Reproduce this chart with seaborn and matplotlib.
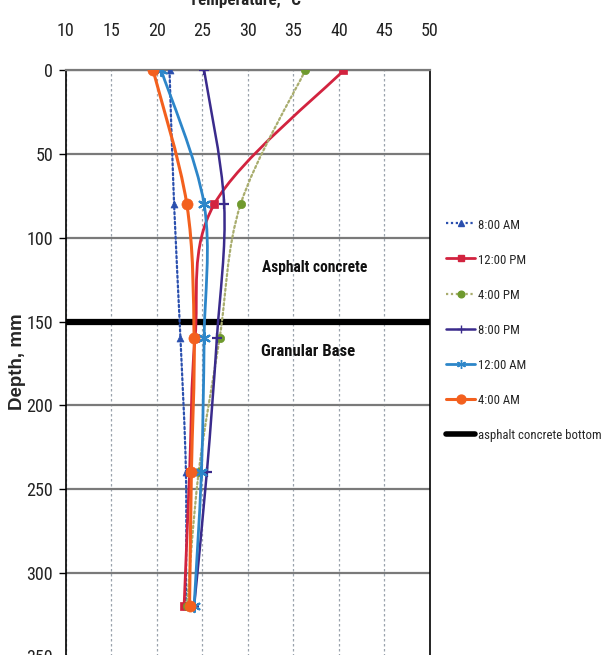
import numpy as np
import matplotlib
matplotlib.use("Agg")
import matplotlib.pyplot as plt
from matplotlib import font_manager as fm
from matplotlib.path import Path
from matplotlib.patches import PathPatch
from matplotlib.lines import Line2D
import seaborn as sns

# Measured pavement temperature profiles (deg C) at each sensor depth (mm)
depth_mm = [0, 80, 160, 240, 320]
temp_0800am = [21.4, 21.9, 22.6, 23.2, 23.2]
temp_1200pm = [40.5, 26.3, 24.2, 23.6, 23.0]
temp_0400pm = [36.3, 29.2, 26.9, 24.6, 23.3]
temp_0800pm = [25.2, 27.4, 26.6, 25.5, 24.1]
temp_1200am = [20.5, 25.2, 25.2, 24.9, 24.1]
temp_0400am = [19.6, 23.3, 24.1, 23.8, 23.6]
series_labels = ["8:00 AM", "12:00 PM", "4:00 PM", "8:00 PM", "12:00 AM", "4:00 AM"]

# Bottom of the asphalt concrete layer
bottom_temp = [10, 50]
bottom_depth = [150, 150]
bottom_label = "asphalt concrete bottom"

x_ticks = [10, 15, 20, 25, 30, 35, 40, 45, 50]
y_ticks = [0, 50, 100, 150, 200, 250, 300, 350]

sns.set_theme(style="white")


def pick_narrow_font():
    """Prefer a condensed sans family when one is installed."""
    fonts = fm.fontManager.ttflist
    names = {f.name for f in fonts}
    for cand in ["Liberation Sans Narrow", "Arial Narrow", "Roboto Condensed",
                 "Open Sans Condensed", "DejaVu Sans Condensed", "Noto Sans Condensed"]:
        if cand in names:
            return cand, "normal"
    for pref in ["DejaVu Sans", "Liberation Sans", "Noto Sans", "Open Sans", "Roboto"]:
        for f in fonts:
            if f.name == pref and str(f.stretch) in ("condensed", "semi-condensed",
                                                     "extra-condensed"):
                return pref, str(f.stretch)
    return "Liberation Sans", "normal"


NARROW, STRETCH = pick_narrow_font()
plt.rcParams["font.family"] = [NARROW, "DejaVu Sans"]
plt.rcParams["font.stretch"] = STRETCH

styles = [
    dict(color="#2a4fae", lc="#2a4fae", ls=(0, (1, 1.2)), lw=1.6, marker="^", ms=5),
    dict(color="#d2233f", lc="#d2233f", ls="-", lw=2.0, marker="s", ms=6),
    dict(color="#6f9a2e", lc="#a9ad6e", ls=(0, (1, 1.2)), lw=1.6, marker="o", ms=6),
    dict(color="#3a2b8c", lc="#3a2b8c", ls="-", lw=1.8, marker="+", ms=7),
    dict(color="#2d86c9", lc="#2d86c9", ls="-", lw=2.0, marker=(6, 2, 0), ms=8),
    dict(color="#f3601e", lc="#f3601e", ls="-", lw=2.2, marker="o", ms=8),
]
series = [temp_0800am, temp_1200pm, temp_0400pm, temp_0800pm, temp_1200am, temp_0400am]


def smooth_path(xs, ys):
    """Cubic Bezier path through the points (Catmull-Rom style smoothing)."""
    pts = np.column_stack([xs, ys]).astype(float)
    n = len(pts)
    verts = [pts[0]]
    codes = [Path.MOVETO]
    for i in range(n - 1):
        p0 = pts[max(i - 1, 0)]
        p1 = pts[i]
        p2 = pts[i + 1]
        p3 = pts[min(i + 2, n - 1)]
        verts += [p1 + (p2 - p0) / 6.0, p2 - (p3 - p1) / 6.0, p2]
        codes += [Path.CURVE4] * 3
    return Path(verts, codes)


fig = plt.figure(figsize=(6.08, 6.55), dpi=100)
ax = fig.add_axes([65.7 / 608, -0.002, (430 - 65.7) / 608, 0.8945])

ax.set_xlim(10, 50)
ax.set_ylim(350, 0)
ax.set_xticks(x_ticks)
ax.set_yticks(y_ticks)

# grid
ax.xaxis.grid(True, color="#9aa3ad", linestyle=(0, (2, 2)), linewidth=0.9)
ax.yaxis.grid(True, color="#7a7a7a", linestyle="-", linewidth=1.6)
ax.set_axisbelow(True)

# asphalt bottom line
sns.lineplot(x=bottom_temp, y=bottom_depth, color="black", linewidth=4.5,
             ax=ax, sort=False, estimator=None, zorder=3, legend=False)

# temperature profiles
for vals, st in zip(series, styles):
    patch = PathPatch(smooth_path(vals, depth_mm), fill=False, edgecolor=st["lc"],
                      linewidth=st["lw"], linestyle=st["ls"], zorder=4,
                      capstyle="round")
    ax.add_patch(patch)
    lw_m = 1.6 if st["marker"] in ("+", (6, 2, 0)) else 0.5
    sns.scatterplot(x=vals, y=depth_mm, marker=st["marker"], s=st["ms"] ** 2,
                    color=st["color"], edgecolor=st["color"], linewidth=lw_m,
                    ax=ax, zorder=5, legend=False)

ax.set_xlabel("")
ax.set_ylabel("")

for side in ("left", "right"):
    ax.spines[side].set_color("black")
    ax.spines[side].set_linewidth(1.2)
ax.spines["top"].set_color("#7a7a7a")
ax.spines["top"].set_linewidth(1.6)
ax.spines["bottom"].set_visible(False)

ax.tick_params(axis="x", top=True, labeltop=True, bottom=False, labelbottom=False,
               length=0, pad=22, labelsize=13, colors="#222222")
ax.tick_params(axis="y", left=True, length=5, width=1.0, color="black",
               direction="out", labelsize=13, colors="#222222", pad=4)

t_asph = ax.text(37.3, 118, "Asphalt concrete", ha="center", va="center",
                 fontsize=13, fontweight="bold", color="#111111")
t_gran = ax.text(36.6, 168, "Granular Base", ha="center", va="center",
                 fontsize=13, fontweight="bold", color="#111111")

t_title = fig.text(245 / 608, 1.0, "Temperature, \u00b0C", ha="center", va="center",
                   fontsize=13, fontweight="bold")
t_ylab = fig.text(18 / 608, 1 - 362 / 655, "Depth, mm", ha="center", va="center",
                  rotation=90, fontsize=13.5, fontweight="bold",
                  family=["Liberation Sans", "DejaVu Sans"], fontstretch="normal")

handles = [Line2D([], [], color=st["lc"], linestyle=st["ls"], linewidth=st["lw"],
                  marker=st["marker"], markersize=st["ms"] * 0.8,
                  markerfacecolor=st["color"], markeredgecolor=st["color"])
           for st in styles]
handles.append(Line2D([], [], color="black", linewidth=4.0))
leg = fig.legend(handles, series_labels + [bottom_label], loc="upper left",
                 bbox_to_anchor=(446 / 608, 1 - 218 / 655), frameon=False,
                 borderaxespad=0, borderpad=0, handlelength=1.9, handletextpad=0.2,
                 labelspacing=1.4, prop={"size": 11})

# shrink/grow the annotation texts to their measured spans
fig.canvas.draw()
renderer = fig.canvas.get_renderer()


def fit_width(artist, target_px):
    for _ in range(3):
        w = artist.get_window_extent(renderer).width
        if w <= 0:
            return
        artist.set_fontsize(artist.get_fontsize() * target_px / w)


fit_width(t_asph, 106)
fit_width(t_gran, 94)
fit_width(t_title, 112)

# legend labels: widest entry spans about 123 px
leg_texts = leg.get_texts()
widest = max(t.get_window_extent(renderer).width for t in leg_texts)
scale = min(1.0, 123 / widest)
for t in leg_texts:
    t.set_fontsize(t.get_fontsize() * scale)

fig.savefig("out.png", dpi=100)
